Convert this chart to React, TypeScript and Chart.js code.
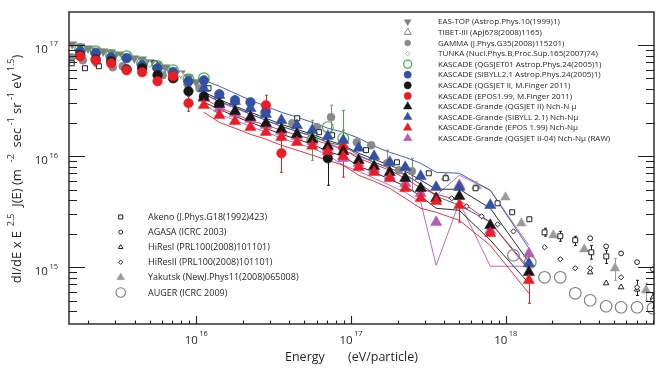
import React, { useEffect, useRef } from 'react';
import { Chart, registerables } from 'chart.js';
import { drawPoint } from 'chart.js/helpers';

Chart.register(...registerables);

// ---------------- axes & text ----------------
const xRange = [1.506e15, 9.07e18];
const yRange = [3.08e14, 1.98e17];
const xTickExponents = [16, 17, 18];
const yTickExponents = [15, 16, 17];
const xAxisTitle = ['Energy', '(eV/particle)'];
const yAxisTitle: [string, boolean][] = [
  ['dI/dE x E', false], ['  2.5', true], ['  J(E) (m', false], ['   -2', true],
  ['  sec', false], [' -1', true], [' sr', false], [' -1', true],
  [' eV', false], [' 1.5', true], [')', false],
];

const topLegendLabels = [
  'EAS-TOP (Astrop.Phys.10(1999)1)',
  'TIBET-III (ApJ678(2008)1165)',
  'GAMMA (J.Phys.G35(2008)115201)',
  'TUNKA (Nucl.Phys.B,Proc.Sup.165(2007)74)',
  'KASCADE (QGSJET01 Astrop.Phys.24(2005)1)',
  'KASCADE (SIBYLL2.1 Astrop.Phys.24(2005)1)',
  'KASCADE (QGSJET II, M.Finger 2011)',
  'KASCADE (EPOS1.99, M.Finger 2011)',
  'KASCADE-Grande (QGSJET II) Nch-N μ',
  'KASCADE-Grande (SIBYLL 2.1) Nch-Nμ',
  'KASCADE-Grande (EPOS 1.99) Nch-Nμ',
  'KASCADE-Grande (QGSJET II-04) Nch-Nμ (RAW)',
];
const bottomLegendLabels = [
  'Akeno (J.Phys.G18(1992)423)',
  'AGASA (ICRC 2003)',
  'HiResI (PRL100(2008)101101)',
  'HiResII (PRL100(2008)101101)',
  'Yakutsk (NewJ.Phys11(2008)065008)',
  'AUGER (ICRC 2009)',
];

// ---------------- data: KASCADE-Grande ----------------
const kgEnergy = [1.12e16, 1.41e16, 1.78e16, 2.24e16, 2.82e16, 3.55e16, 4.47e16, 5.62e16, 7.08e16, 8.91e16, 1.12e17, 1.41e17, 1.78e17, 2.24e17, 2.82e17, 3.55e17, 5.01e17, 7.94e17, 1.41e18];

const kgQgsjet = [3.38e16, 2.93e16, 2.53e16, 2.24e16, 1.97e16, 1.74e16, 1.57e16, 1.42e16, 1.23e16, 1.10e16, 9.17e15, 8.09e15, 7.15e15, 6.31e15, 5.13e15, 4.17e15, 4.35e15, 2.38e15, 9.00e14];
const kgQgsjetUp = [3.75e16, 3.24e16, 2.81e16, 2.48e16, 2.19e16, 1.93e16, 1.74e16, 1.57e16, 1.39e16, 1.25e16, 1.06e16, 9.36e15, 8.26e15, 7.30e15, 6.06e15, 5.03e15, 5.03e15, 3.39e15, 1.11e15];
const kgQgsjetDown = [3.05e16, 2.64e16, 2.28e16, 2.01e16, 1.78e16, 1.57e16, 1.42e16, 1.28e16, 1.10e16, 9.96e15, 8.09e15, 7.15e15, 6.18e15, 5.35e15, 4.35e15, 3.39e15, 3.25e15, 1.75e15, 7.17e14];

const kgSibyll = [4.08e16, 3.53e16, 3.11e16, 2.69e16, 2.38e16, 2.10e16, 1.89e16, 1.71e16, 1.51e16, 1.39e16, 1.18e16, 9.96e15, 8.79e15, 7.93e15, 6.58e15, 5.24e15, 5.24e15, 3.61e15, 1.08e15];
const kgSibyllUp = [4.81e16, 4.25e16, 3.67e16, 3.18e16, 2.81e16, 2.48e16, 2.24e16, 2.01e16, 1.78e16, 1.64e16, 1.45e16, 1.23e16, 1.08e16, 9.75e15, 8.61e15, 7.15e15, 7.00e15, 4.92e15, 1.48e15];
const kgSibyllDown = [3.60e16, 3.11e16, 2.75e16, 2.38e16, 2.10e16, 1.85e16, 1.67e16, 1.51e16, 1.33e16, 1.23e16, 1.02e16, 8.79e15, 7.77e15, 6.86e15, 5.57e15, 4.35e15, 3.61e15, 2.54e15, 9.78e14];

const kgEpos = [2.87e16, 2.33e16, 2.06e16, 1.82e16, 1.64e16, 1.48e16, 1.33e16, 1.23e16, 1.10e16, 9.96e15, 7.93e15, 7.15e15, 6.31e15, 5.13e15, 4.17e15, 3.92e15, 3.61e15, 2.02e15, 7.62e14];
const kgEposUp = [3.31e16, 2.75e16, 2.38e16, 2.10e16, 1.89e16, 1.71e16, 1.54e16, 1.42e16, 1.28e16, 1.15e16, 9.55e15, 8.43e15, 7.45e15, 6.31e15, 5.13e15, 4.53e15, 4.00e15, 2.54e15, 9.38e14];
const kgEposDown = [2.48e16, 2.01e16, 1.78e16, 1.57e16, 1.42e16, 1.25e16, 1.13e16, 1.02e16, 9.17e15, 8.26e15, 6.72e15, 5.93e15, 5.13e15, 4.17e15, 3.39e15, 3.12e15, 2.64e15, 1.57e15, 5.82e14];
const kgEposErrHi = [null, null, null, null, null, null, null, null, null, null, null, null, null, null, null, null, 4.35e15, null, 1.11e15];
const kgEposErrLo = [null, null, null, null, null, null, null, null, null, null, null, null, null, null, null, null, 2.54e15, null, 4.73e14];

const kgRaw = [3.31e16, 2.69e16, 2.43e16, 2.14e16, 1.89e16, 1.67e16, 1.51e16, 1.36e16, 1.18e16, 9.55e15, 8.61e15, 7.61e15, 6.58e15, 5.69e15, 4.63e15, 2.54e15, 5.46e15, 2.15e15, 1.33e15];
const kgRawUp = [3.67e16, 3.05e16, 2.69e16, 2.38e16, 2.10e16, 1.85e16, 1.67e16, 1.51e16, 1.33e16, 1.13e16, 9.96e15, 8.79e15, 7.77e15, 6.72e15, 5.57e15, 4.44e15, 6.72e15, 4.92e15, 1.57e15];
const kgRawDown = [2.93e16, 2.38e16, 2.10e16, 1.85e16, 1.64e16, 1.45e16, 1.30e16, 1.18e16, 1.02e16, 8.26e15, 7.30e15, 6.31e15, 5.46e15, 4.72e15, 3.84e15, 1.04e15, 3.84e15, 1.02e15, 1.02e15];

// ---------------- data: KASCADE ----------------
const kaSibyllEnergy = [1.78e15, 2.24e15, 2.82e15, 3.55e15, 4.47e15, 5.62e15, 7.08e15, 8.91e15, 1.12e16, 1.41e16, 1.78e16, 2.24e16, 2.82e16];
const kaSibyll = [8.78e16, 8.42e16, 7.75e16, 7.59e16, 6.57e16, 6.17e16, 5.68e16, 4.71e16, 4.81e16, 3.60e16, 3.18e16, 3.05e16, 2.53e16];

const kaQgsjetEnergy = [1.78e15, 2.24e15, 2.82e15, 3.55e15, 4.47e15, 5.62e15, 7.08e15, 8.91e15, 1.12e16, 1.41e16, 7.08e16];
const kaQgsjet = [8.08e16, 7.43e16, 7.13e16, 6.04e16, 6.17e16, 5.34e16, 5.01e16, 3.83e16, 3.45e16, 2.93e16, 9.55e15];
const kaQgsjetErrHi = [null, null, null, null, null, null, null, null, null, null, 1.33e16];
const kaQgsjetErrLo = [null, null, null, null, null, null, null, null, null, null, 5.46e15];

const kaEposEnergy = [1.78e15, 2.24e15, 2.82e15, 3.55e15, 4.47e15, 5.62e15, 7.08e15, 8.91e15, 2.82e16, 3.55e16, 8.91e16];
const kaEpos = [7.91e16, 7.28e16, 6.84e16, 5.92e16, 5.68e16, 4.71e16, 5.23e16, 2.99e16, 2.87e16, 1.06e16, 1.18e16];
const kaEposErrHi = [null, null, null, null, null, null, null, 3.45e16, 3.53e16, 1.39e16, 1.71e16];
const kaEposErrLo = [null, null, null, null, null, null, null, 2.53e16, 2.33e16, 7.15e15, 6.45e15];

const kaQgs01Energy = [1.78e15, 2.24e15, 2.82e15, 3.55e15, 4.47e15, 5.62e15, 7.08e15, 8.91e15, 1.12e16, 5.62e16, 7.08e16, 8.91e16];
const kaQgs01 = [9.15e16, 8.78e16, 8.08e16, 7.91e16, 6.84e16, 6.43e16, 5.92e16, 4.91e16, 5.01e16, 1.39e16, 1.82e16, 1.45e16];
const kaQgs01ErrHi = [null, null, null, null, null, null, null, null, null, 2.10e16, null, 2.58e16];
const kaQgs01ErrLo = [null, null, null, null, null, null, null, null, null, 9.17e15, null, 1.25e16];

// ---------------- data: other experiments ----------------
const eastopEnergy = [1.58e15, 1.78e15, 2.00e15, 2.24e15, 2.51e15, 2.82e15, 3.16e15, 3.55e15, 3.98e15, 4.47e15, 5.01e15, 5.62e15, 6.31e15, 7.08e15, 7.94e15, 8.91e15, 1.00e16];
const eastopFlux = [1.015e17, 9.73e16, 9.34e16, 8.96e16, 8.78e16, 8.60e16, 8.25e16, 7.91e16, 7.59e16, 7.43e16, 6.99e16, 6.70e16, 6.30e16, 5.92e16, 5.56e16, 5.12e16, 4.62e16];

const tibetEnergy = [1.78e15, 2.82e15, 4.47e15, 7.08e15, 1.12e16];
const tibetFlux = [8.42e16, 7.59e16, 6.84e16, 5.68e16, 4.34e16];

const gammaEnergy = [1.57e15, 1.85e15, 2.28e15, 2.89e15, 3.35e15, 4.51e15, 6.07e15, 7.24e15, 8.79e15, 1.05e16, 2.75e16, 4.17e16, 6.04e16, 7.43e16, 1.09e17, 1.35e17, 1.71e17, 2.04e17, 2.47e17];
const gammaFlux = [7.75e16, 7.28e16, 6.84e16, 6.30e16, 6.43e16, 6.17e16, 5.34e16, 5.01e16, 4.43e16, 4.08e16, 2.43e16, 1.97e16, 1.82e16, 2.24e16, 1.33e16, 1.25e16, 8.61e15, 7.45e15, 7.30e15];
const gammaErrHi = [null, null, null, null, null, null, null, null, null, null, null, null, null, 2.87e16, null, null, 1.13e16, null, 9.55e15];
const gammaErrLo = [null, null, null, null, null, null, null, null, null, null, null, null, null, 1.54e16, null, null, 6.31e15, null, 4.92e15];

const tunkaEnergy = [3.16e15, 5.01e15, 7.94e15];
const tunkaFlux = [7.59e16, 6.70e16, 5.45e16];

const akenoEnergy = [1.57e15, 1.91e15, 2.35e15, 5.38e15, 1.20e16, 1.79e16, 2.84e16, 4.49e16, 6.22e16, 7.55e16, 1.25e17, 1.98e17, 3.18e17, 4.09e17, 6.38e17, 8.85e17, 1.10e18, 1.42e18, 1.78e18, 2.25e18, 2.81e18, 3.57e18, 4.46e18];
const akenoFlux = [6.84e16, 6.17e16, 6.43e16, 6.84e16, 4.08e16, 3.05e16, 2.69e16, 2.19e16, 1.64e16, 1.54e16, 1.13e16, 8.79e15, 7.00e15, 6.31e15, 5.13e15, 3.76e15, 3.12e15, 2.70e15, 2.06e15, 1.90e15, 1.75e15, 1.36e15, 1.25e15];
const akenoErrHi = [null, null, null, null, null, null, null, null, null, null, null, null, null, null, null, null, null, null, 2.24e15, 2.10e15, 1.90e15, 1.57e15, 1.42e15];
const akenoErrLo = [null, null, null, null, null, null, null, null, null, null, null, null, null, null, null, null, null, null, 1.90e15, 1.71e15, 1.57e15, 1.18e15, 1.08e15];

const agasaEnergy = [3.51e18, 4.45e18, 5.56e18, 7.05e18, 8.93e18];
const agasaFlux = [1.82e15, 1.54e15, 1.33e15, 1.11e15, 9.58e14];

const hiresIEnergy = [3.51e18, 4.45e18, 5.56e18, 7.05e18, 8.93e18];
const hiresIFlux = [9.00e14, 7.17e14, 6.60e14, 6.30e14, 5.33e14];

const hiresIIEnergy = [4.47e17, 5.58e17, 6.98e17, 8.85e17, 1.12e18, 1.78e18, 2.25e18, 2.81e18, 3.51e18, 5.56e18, 7.05e18, 8.93e18];
const hiresIIFlux = [4.17e15, 3.53e15, 2.87e15, 2.43e15, 2.10e15, 1.51e15, 1.18e15, 9.78e14, 9.78e14, 8.11e14, 6.60e14, 5.04e14];
const hiresIIErrHi = [null, null, null, null, null, null, null, null, null, null, 7.62e14, 5.82e14];
const hiresIIErrLo = [null, null, null, null, null, null, null, null, null, null, 5.56e14, 4.27e14];

const yakutskEnergy = [4.09e17, 6.47e17, 9.95e17, 1.26e18, 2.03e18, 3.21e18, 5.08e18, 8.05e18];
const yakutskFlux = [6.45e15, 5.35e15, 4.26e15, 2.48e15, 1.94e15, 1.45e15, 9.78e14, 6.20e14];
const yakutskErrHi = [null, null, null, null, null, null, 1.20e15, 7.17e14];
const yakutskErrLo = [null, null, null, null, null, null, 7.62e14, 5.04e14];

const augerEnergy = [1.12e18, 1.44e18, 1.78e18, 2.25e18, 2.81e18, 3.51e18, 4.45e18, 5.56e18, 7.05e18, 8.93e18];
const augerFlux = [1.28e15, 1.11e15, 8.11e14, 8.11e14, 5.82e14, 5.04e14, 4.45e14, 4.36e14, 4.36e14, 4.27e14];

// ---------------- styles ----------------
const BLUE = '#3350a4';
const RED = '#ec1c24';
const BLACK = '#161616';
const PURPLE = '#b35db6';
const GREEN = '#3fae49';
const INK = '#231f20';
const FONT = '"Open Sans", "Noto Sans", sans-serif';

type Mk = { style: string; r: number; fill: string; stroke: string; bw: number; rot?: number };
const MK: Record<string, Mk> = {
  eastop: { style: 'triangle', r: 5.2, fill: '#7f7f7f', stroke: '#7f7f7f', bw: 0.5, rot: 180 },
  tibet: { style: 'triangle', r: 5.5, fill: 'rgba(0,0,0,0)', stroke: '#808080', bw: 1 },
  gamma: { style: 'circle', r: 4, fill: '#8a8a8a', stroke: '#8a8a8a', bw: 0.5 },
  tunka: { style: 'rectRot', r: 3, fill: '#ffffff', stroke: '#a0a0a0', bw: 0.8 },
  kaQgs01: { style: 'circle', r: 5.4, fill: 'rgba(0,0,0,0)', stroke: GREEN, bw: 1.2 },
  kaSibyll: { style: 'circle', r: 4.8, fill: BLUE, stroke: BLUE, bw: 0.5 },
  kaQgsjet: { style: 'circle', r: 4.8, fill: BLACK, stroke: BLACK, bw: 0.5 },
  kaEpos: { style: 'circle', r: 4.8, fill: RED, stroke: RED, bw: 0.5 },
  kgQgsjet: { style: 'triangle', r: 6.5, fill: BLACK, stroke: BLACK, bw: 0.5 },
  kgSibyll: { style: 'triangle', r: 6.5, fill: BLUE, stroke: BLUE, bw: 0.5 },
  kgEpos: { style: 'triangle', r: 6.5, fill: RED, stroke: RED, bw: 0.5 },
  kgRaw: { style: 'triangle', r: 6.5, fill: PURPLE, stroke: PURPLE, bw: 0.5 },
  akeno: { style: 'rect', r: 3.5, fill: '#ffffff', stroke: INK, bw: 1 },
  agasa: { style: 'circle', r: 2.4, fill: '#ffffff', stroke: INK, bw: 1 },
  hiresI: { style: 'triangle', r: 3.2, fill: '#ffffff', stroke: INK, bw: 1 },
  hiresII: { style: 'rectRot', r: 2.6, fill: '#ffffff', stroke: INK, bw: 1 },
  yakutsk: { style: 'triangle', r: 5.5, fill: '#9b9b9b', stroke: '#9b9b9b', bw: 0.5 },
  auger: { style: 'circle', r: 5.8, fill: 'rgba(0,0,0,0)', stroke: '#7d7d7d', bw: 1.1 },
};

const topLegendKeys = ['eastop', 'tibet', 'gamma', 'tunka', 'kaQgs01', 'kaSibyll', 'kaQgsjet', 'kaEpos', 'kgQgsjet', 'kgSibyll', 'kgEpos', 'kgRaw'];
const bottomLegendKeys = ['akeno', 'agasa', 'hiresI', 'hiresII', 'yakutsk', 'auger'];

function markers(key: string, xs: number[], ys: number[], hi?: any[], lo?: any[], errColor?: string) {
  const m = MK[key];
  return {
    data: xs.map((x, i) => ({ x, y: ys[i] })),
    showLine: false,
    pointStyle: m.style,
    pointRadius: m.r,
    pointRotation: m.rot || 0,
    pointBackgroundColor: m.fill,
    pointBorderColor: m.stroke,
    pointBorderWidth: m.bw,
    clip: 0,
    errHi: hi,
    errLo: lo,
    errColor: errColor || m.stroke,
  };
}

function band(xs: number[], ys: number[], color: string) {
  return {
    data: xs.map((x, i) => ({ x, y: ys[i] })),
    showLine: true,
    pointRadius: 0,
    borderColor: color,
    borderWidth: 0.9,
    fill: false,
    clip: 0,
  };
}

function drawMarker(ctx: CanvasRenderingContext2D, m: Mk, x: number, y: number, scale: number) {
  ctx.save();
  ctx.fillStyle = m.fill;
  ctx.strokeStyle = m.stroke;
  ctx.lineWidth = m.bw;
  drawPoint(ctx, { pointStyle: m.style as any, radius: m.r * scale, rotation: m.rot || 0, borderWidth: m.bw } as any, x, y);
  ctx.restore();
}

const errorBars = {
  id: 'errorBars',
  beforeDatasetsDraw(chart: any) {
    const { ctx, chartArea: a } = chart;
    const xs = chart.scales.x;
    const ys = chart.scales.y;
    ctx.save();
    ctx.beginPath();
    ctx.rect(a.left, a.top, a.right - a.left, a.bottom - a.top);
    ctx.clip();
    chart.data.datasets.forEach((ds: any) => {
      if (!ds.errHi) return;
      ctx.strokeStyle = ds.errColor;
      ctx.lineWidth = 1;
      ds.data.forEach((p: any, j: number) => {
        const hi = ds.errHi[j];
        const lo = ds.errLo[j];
        if (hi == null || lo == null) return;
        const x = Math.round(xs.getPixelForValue(p.x)) + 0.5;
        const y1 = ys.getPixelForValue(hi);
        const y2 = ys.getPixelForValue(lo);
        ctx.beginPath();
        ctx.moveTo(x, y1); ctx.lineTo(x, y2);
        ctx.moveTo(x - 1.5, y1); ctx.lineTo(x + 1.5, y1);
        ctx.moveTo(x - 1.5, y2); ctx.lineTo(x + 1.5, y2);
        ctx.stroke();
      });
    });
    ctx.restore();
  },
};

const frame = {
  id: 'frame',
  afterDraw(chart: any) {
    const { ctx, chartArea: a } = chart;
    const xs = chart.scales.x;
    const ys = chart.scales.y;
    ctx.save();
    // box
    ctx.strokeStyle = INK;
    ctx.lineWidth = 1.4;
    ctx.strokeRect(a.left, a.top, a.right - a.left, a.bottom - a.top);
    // ticks (inside)
    ctx.lineWidth = 1.1;
    ctx.beginPath();
    for (let e = 15; e <= 18; e++) {
      for (let m = 1; m <= 9; m++) {
        const v = m * Math.pow(10, e);
        if (v <= xRange[0] || v >= xRange[1]) continue;
        const p = Math.round(xs.getPixelForValue(v)) + 0.5;
        const len = m === 1 ? 8 : 3.5;
        ctx.moveTo(p, a.bottom);
        ctx.lineTo(p, a.bottom - len);
      }
    }
    for (let e = 14; e <= 17; e++) {
      for (let m = 1; m <= 9; m++) {
        const v = m * Math.pow(10, e);
        if (v <= yRange[0] || v >= yRange[1]) continue;
        const p = Math.round(ys.getPixelForValue(v)) + 0.5;
        const len = m === 1 ? 16 : 8;
        ctx.moveTo(a.left, p); ctx.lineTo(a.left + len, p);
        ctx.moveTo(a.right, p); ctx.lineTo(a.right - len, p);
      }
    }
    ctx.stroke();

    // tick labels
    ctx.fillStyle = INK;
    ctx.textBaseline = 'alphabetic';
    const base = `11.5px ${FONT}`;
    const sup = `7.5px ${FONT}`;
    xTickExponents.forEach((e) => {
      const p = xs.getPixelForValue(Math.pow(10, e));
      ctx.font = base; const w1 = ctx.measureText('10').width;
      ctx.font = sup; const w2 = ctx.measureText(String(e)).width;
      const x0 = p - (w1 + 1.5 + w2) / 2;
      ctx.textAlign = 'left';
      ctx.font = base; ctx.fillText('10', x0, a.bottom + 19.5);
      ctx.font = sup; ctx.fillText(String(e), x0 + w1 + 1.5, a.bottom + 11.5);
    });
    yTickExponents.forEach((e) => {
      const p = ys.getPixelForValue(Math.pow(10, e));
      ctx.font = sup; const w2 = ctx.measureText(String(e)).width;
      ctx.textAlign = 'right';
      const xr = a.left - 11;
      ctx.fillText(String(e), xr, p + 1.5);
      ctx.font = base; ctx.fillText('10', xr - w2 - 1.5, p + 8);
    });

    // x title
    ctx.font = `12.5px ${FONT}`;
    ctx.textAlign = 'left';
    ctx.fillText(xAxisTitle[0], 285, 361);
    ctx.fillText(xAxisTitle[1], 348, 361);

    // y title (rotated)
    const mainF = `13px ${FONT}`;
    const supF = `9px ${FONT}`;
    let total = 0;
    yAxisTitle.forEach(([t, s]) => { ctx.font = s ? supF : mainF; total += ctx.measureText(t).width; });
    ctx.save();
    ctx.translate(16, 169 + total / 2);
    ctx.rotate(-Math.PI / 2);
    let u = 0;
    yAxisTitle.forEach(([t, s]) => {
      ctx.font = s ? supF : mainF;
      ctx.fillText(t, u, s ? -2.5 : 5);
      u += ctx.measureText(t).width;
    });
    ctx.restore();

    // legends
    ctx.textBaseline = 'middle';
    ctx.textAlign = 'left';
    ctx.font = `8px ${FONT}`;
    topLegendLabels.forEach((lab, i) => {
      const y = 21.7 + i * 10.6;
      drawMarker(ctx, MK[topLegendKeys[i]], 407.7, y, 0.75);
      ctx.fillStyle = INK;
      ctx.fillText(lab, 438, y + 0.5);
    });
    ctx.font = `9px ${FONT}`;
    bottomLegendLabels.forEach((lab, i) => {
      const y = 217 + i * 15.1;
      drawMarker(ctx, MK[bottomLegendKeys[i]], 120.7, y, 0.82);
      ctx.fillStyle = INK;
      ctx.fillText(lab, 148, y + 0.5);
    });
    ctx.restore();
  },
};

export default function App() {
  const ref = useRef<HTMLCanvasElement | null>(null);
  useEffect(() => {
    document.body.style.margin = '0';
    const canvas = ref.current;
    if (!canvas) return;
    const datasets: any[] = [
      markers('kgEpos', kgEnergy, kgEpos, kgEposErrHi, kgEposErrLo),
      markers('kgQgsjet', kgEnergy, kgQgsjet),
      markers('kgSibyll', kgEnergy, kgSibyll),
      markers('kgRaw', kgEnergy, kgRaw),
      markers('kaEpos', kaEposEnergy, kaEpos, kaEposErrHi, kaEposErrLo),
      markers('kaQgsjet', kaQgsjetEnergy, kaQgsjet, kaQgsjetErrHi, kaQgsjetErrLo),
      markers('kaSibyll', kaSibyllEnergy, kaSibyll),
      markers('kaQgs01', kaQgs01Energy, kaQgs01, kaQgs01ErrHi, kaQgs01ErrLo),
      markers('akeno', akenoEnergy, akenoFlux, akenoErrHi, akenoErrLo),
      markers('hiresII', hiresIIEnergy, hiresIIFlux, hiresIIErrHi, hiresIIErrLo),
      markers('hiresI', hiresIEnergy, hiresIFlux),
      markers('agasa', agasaEnergy, agasaFlux),
      markers('yakutsk', yakutskEnergy, yakutskFlux, yakutskErrHi, yakutskErrLo),
      markers('auger', augerEnergy, augerFlux),
      markers('gamma', gammaEnergy, gammaFlux, gammaErrHi, gammaErrLo),
      markers('tunka', tunkaEnergy, tunkaFlux),
      markers('tibet', tibetEnergy, tibetFlux),
      markers('eastop', eastopEnergy, eastopFlux),
      band(kgEnergy, kgEposUp, RED),
      band(kgEnergy, kgEposDown, RED),
      band(kgEnergy, kgQgsjetUp, BLACK),
      band(kgEnergy, kgQgsjetDown, BLACK),
      band(kgEnergy, kgSibyllUp, BLUE),
      band(kgEnergy, kgSibyllDown, BLUE),
      band(kgEnergy, kgRawUp, PURPLE),
      band(kgEnergy, kgRawDown, PURPLE),
    ];
    const chart = new Chart(canvas, {
      type: 'scatter',
      data: { datasets },
      options: {
        animation: false,
        responsive: false,
        devicePixelRatio: 1,
        events: [],
        layout: { padding: { left: 69, right: 5, top: 12, bottom: 51 } },
        plugins: { legend: { display: false }, tooltip: { enabled: false } },
        scales: {
          x: { type: 'logarithmic', display: false, min: xRange[0], max: xRange[1], bounds: 'data' },
          y: { type: 'logarithmic', display: false, min: yRange[0], max: yRange[1], bounds: 'data' },
        },
      } as any,
      plugins: [errorBars, frame],
    });
    return () => chart.destroy();
  }, []);
  return (
    <div style={{ width: 661, height: 375, background: '#fff' }}>
      <canvas ref={ref} width={661} height={375} style={{ display: 'block' }} />
    </div>
  );
}
